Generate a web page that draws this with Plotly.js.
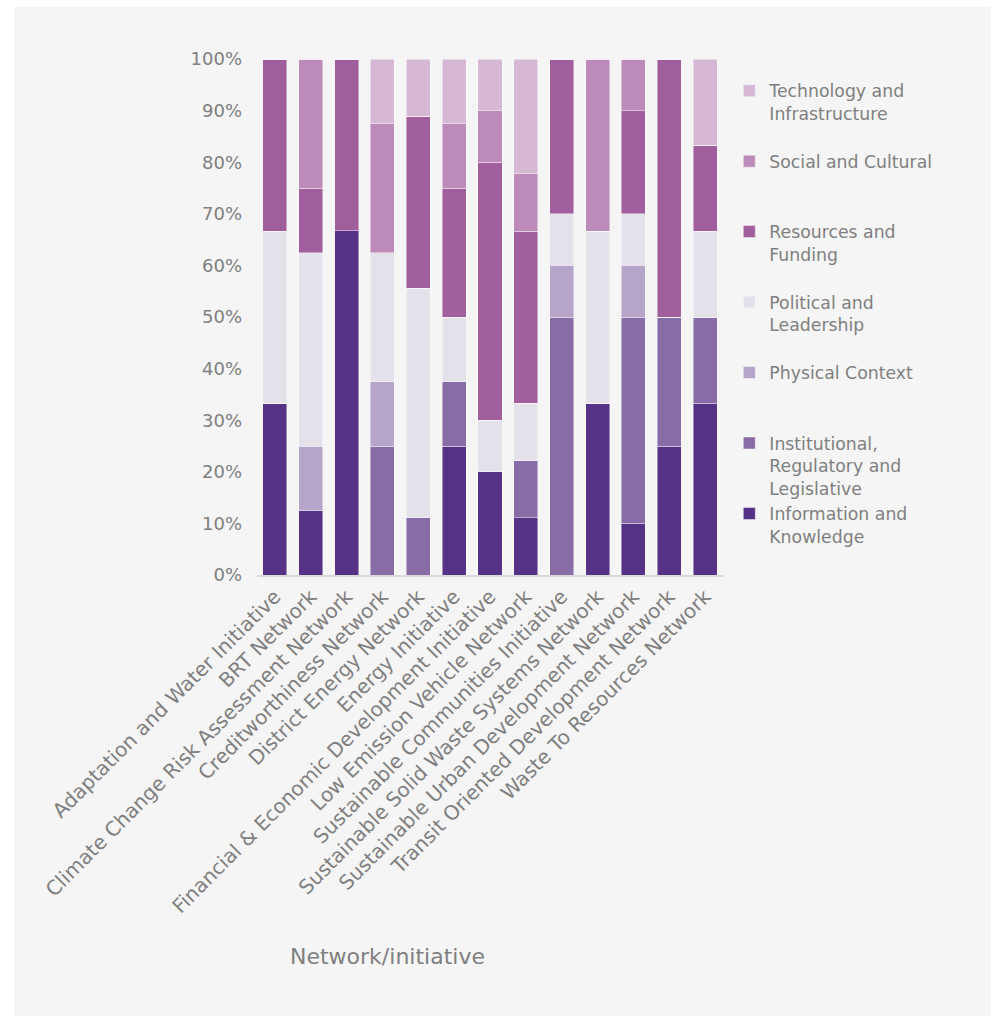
<!DOCTYPE html>
<html>
<head>
<meta charset="utf-8">
<script src="https://cdn.plot.ly/plotly-3.0.1.min.js"></script>
<style>
  html, body { margin: 0; padding: 0; background: #ffffff; }
  #chart { position: absolute; left: 14px; top: 7px; width: 977px; height: 1009px; }
</style>
</head>
<body>
<div id="chart"></div>
<script>
var categories = [
  "Adaptation and Water Initiative",
  "BRT Network",
  "Climate Change Risk Assessment Network",
  "Creditworthiness Network",
  "District Energy Network",
  "Energy Initiative",
  "Financial & Economic Development Initiative",
  "Low Emission Vehicle Network",
  "Sustainable Communities Initiative",
  "Sustainable Solid Waste Systems Network",
  "Sustainable Urban Development Network",
  "Transit Oriented Development Network",
  "Waste To Resources Network"
];

// values in percent
var informationKnowledge = [33.3, 12.5, 66.7, 0, 0, 25, 20, 11.1, 0, 33.3, 10, 25, 33.3];
var institutionalRegulatory = [0, 0, 0, 25, 11.1, 12.5, 0, 11.1, 50, 0, 40, 25, 16.7];
var physicalContext = [0, 12.5, 0, 12.5, 0, 0, 0, 0, 10, 0, 10, 0, 0];
var politicalLeadership = [33.3, 37.5, 0, 25, 44.4, 12.5, 10, 11.1, 10, 33.3, 10, 0, 16.7];
var resourcesFunding = [33.3, 12.5, 33.3, 0, 33.3, 25, 50, 33.3, 30, 0, 20, 50, 16.7];
var socialCultural = [0, 25, 0, 25, 0, 12.5, 10, 11.1, 0, 33.3, 10, 0, 0];
var technologyInfrastructure = [0, 0, 0, 12.5, 11.1, 12.5, 10, 22.2, 0, 0, 0, 0, 16.7];

var seriesNames = [
  "Information and<br>Knowledge<br> ",
  "Institutional,<br>Regulatory and<br>Legislative",
  "Physical Context<br> <br> ",
  "Political and<br>Leadership<br> ",
  "Resources and<br>Funding<br> ",
  "Social and Cultural<br> <br> ",
  "Technology and<br>Infrastructure<br> "
];
var seriesValues = [
  informationKnowledge, institutionalRegulatory, physicalContext,
  politicalLeadership, resourcesFunding, socialCultural, technologyInfrastructure
];
var seriesColors = ["#553285", "#876ca6", "#b5a5c9", "#e4e1ea", "#a15e9c", "#bd8bb9", "#d6b8d5"];

var yTicks = [0, 10, 20, 30, 40, 50, 60, 70, 80, 90, 100];

var FONT = "DejaVu Sans";
var GREY = "#7f7f7f";

var traces = seriesNames.map(function (name, i) {
  return {
    type: "bar",
    name: name,
    x: categories,
    y: seriesValues[i],
    marker: { color: seriesColors[i], line: { color: "rgba(255,255,255,0.55)", width: 0.8 } },
    hoverinfo: "x+y"
  };
});

var layout = {
  barmode: "stack",
  barnorm: "percent",
  bargap: 0.33,
  paper_bgcolor: "#f5f5f5",
  plot_bgcolor: "#f5f5f5",
  margin: { l: 243, r: 268, t: 52, b: 441 },
  font: { family: FONT, color: GREY, size: 18 },
  showlegend: true,
  legend: {
    x: 1.0135, xanchor: "left",
    y: 0.973, yanchor: "top",
    traceorder: "reversed",
    valign: "top",
    font: { family: FONT, color: GREY, size: 17.3 },
    bgcolor: "rgba(0,0,0,0)"
  },
  xaxis: {
    type: "category",
    tickangle: -45,
    showline: true,
    linecolor: "#d9d9d9",
    linewidth: 2,
    showgrid: false,
    ticks: "",
    zeroline: false,
    tickfont: { family: FONT, color: GREY, size: 20 },
    automargin: false
  },
  yaxis: {
    range: [0, 100],
    tickvals: yTicks,
    ticktext: yTicks.map(function (v) { return v + "%"; }),
    showgrid: false,
    zeroline: false,
    showline: false,
    ticks: "",
    ticklabelstandoff: 14,
    tickfont: { family: FONT, color: GREY, size: 18 },
    automargin: false
  },
  annotations: [{
    text: "Network/initiative",
    xref: "paper", yref: "paper",
    x: 0.279, y: -0.74,
    xanchor: "center", yanchor: "middle",
    showarrow: false,
    font: { family: FONT, color: GREY, size: 22 }
  }]
};

Plotly.newPlot("chart", traces, layout, { displayModeBar: false, staticPlot: true });
</script>
</body>
</html>
